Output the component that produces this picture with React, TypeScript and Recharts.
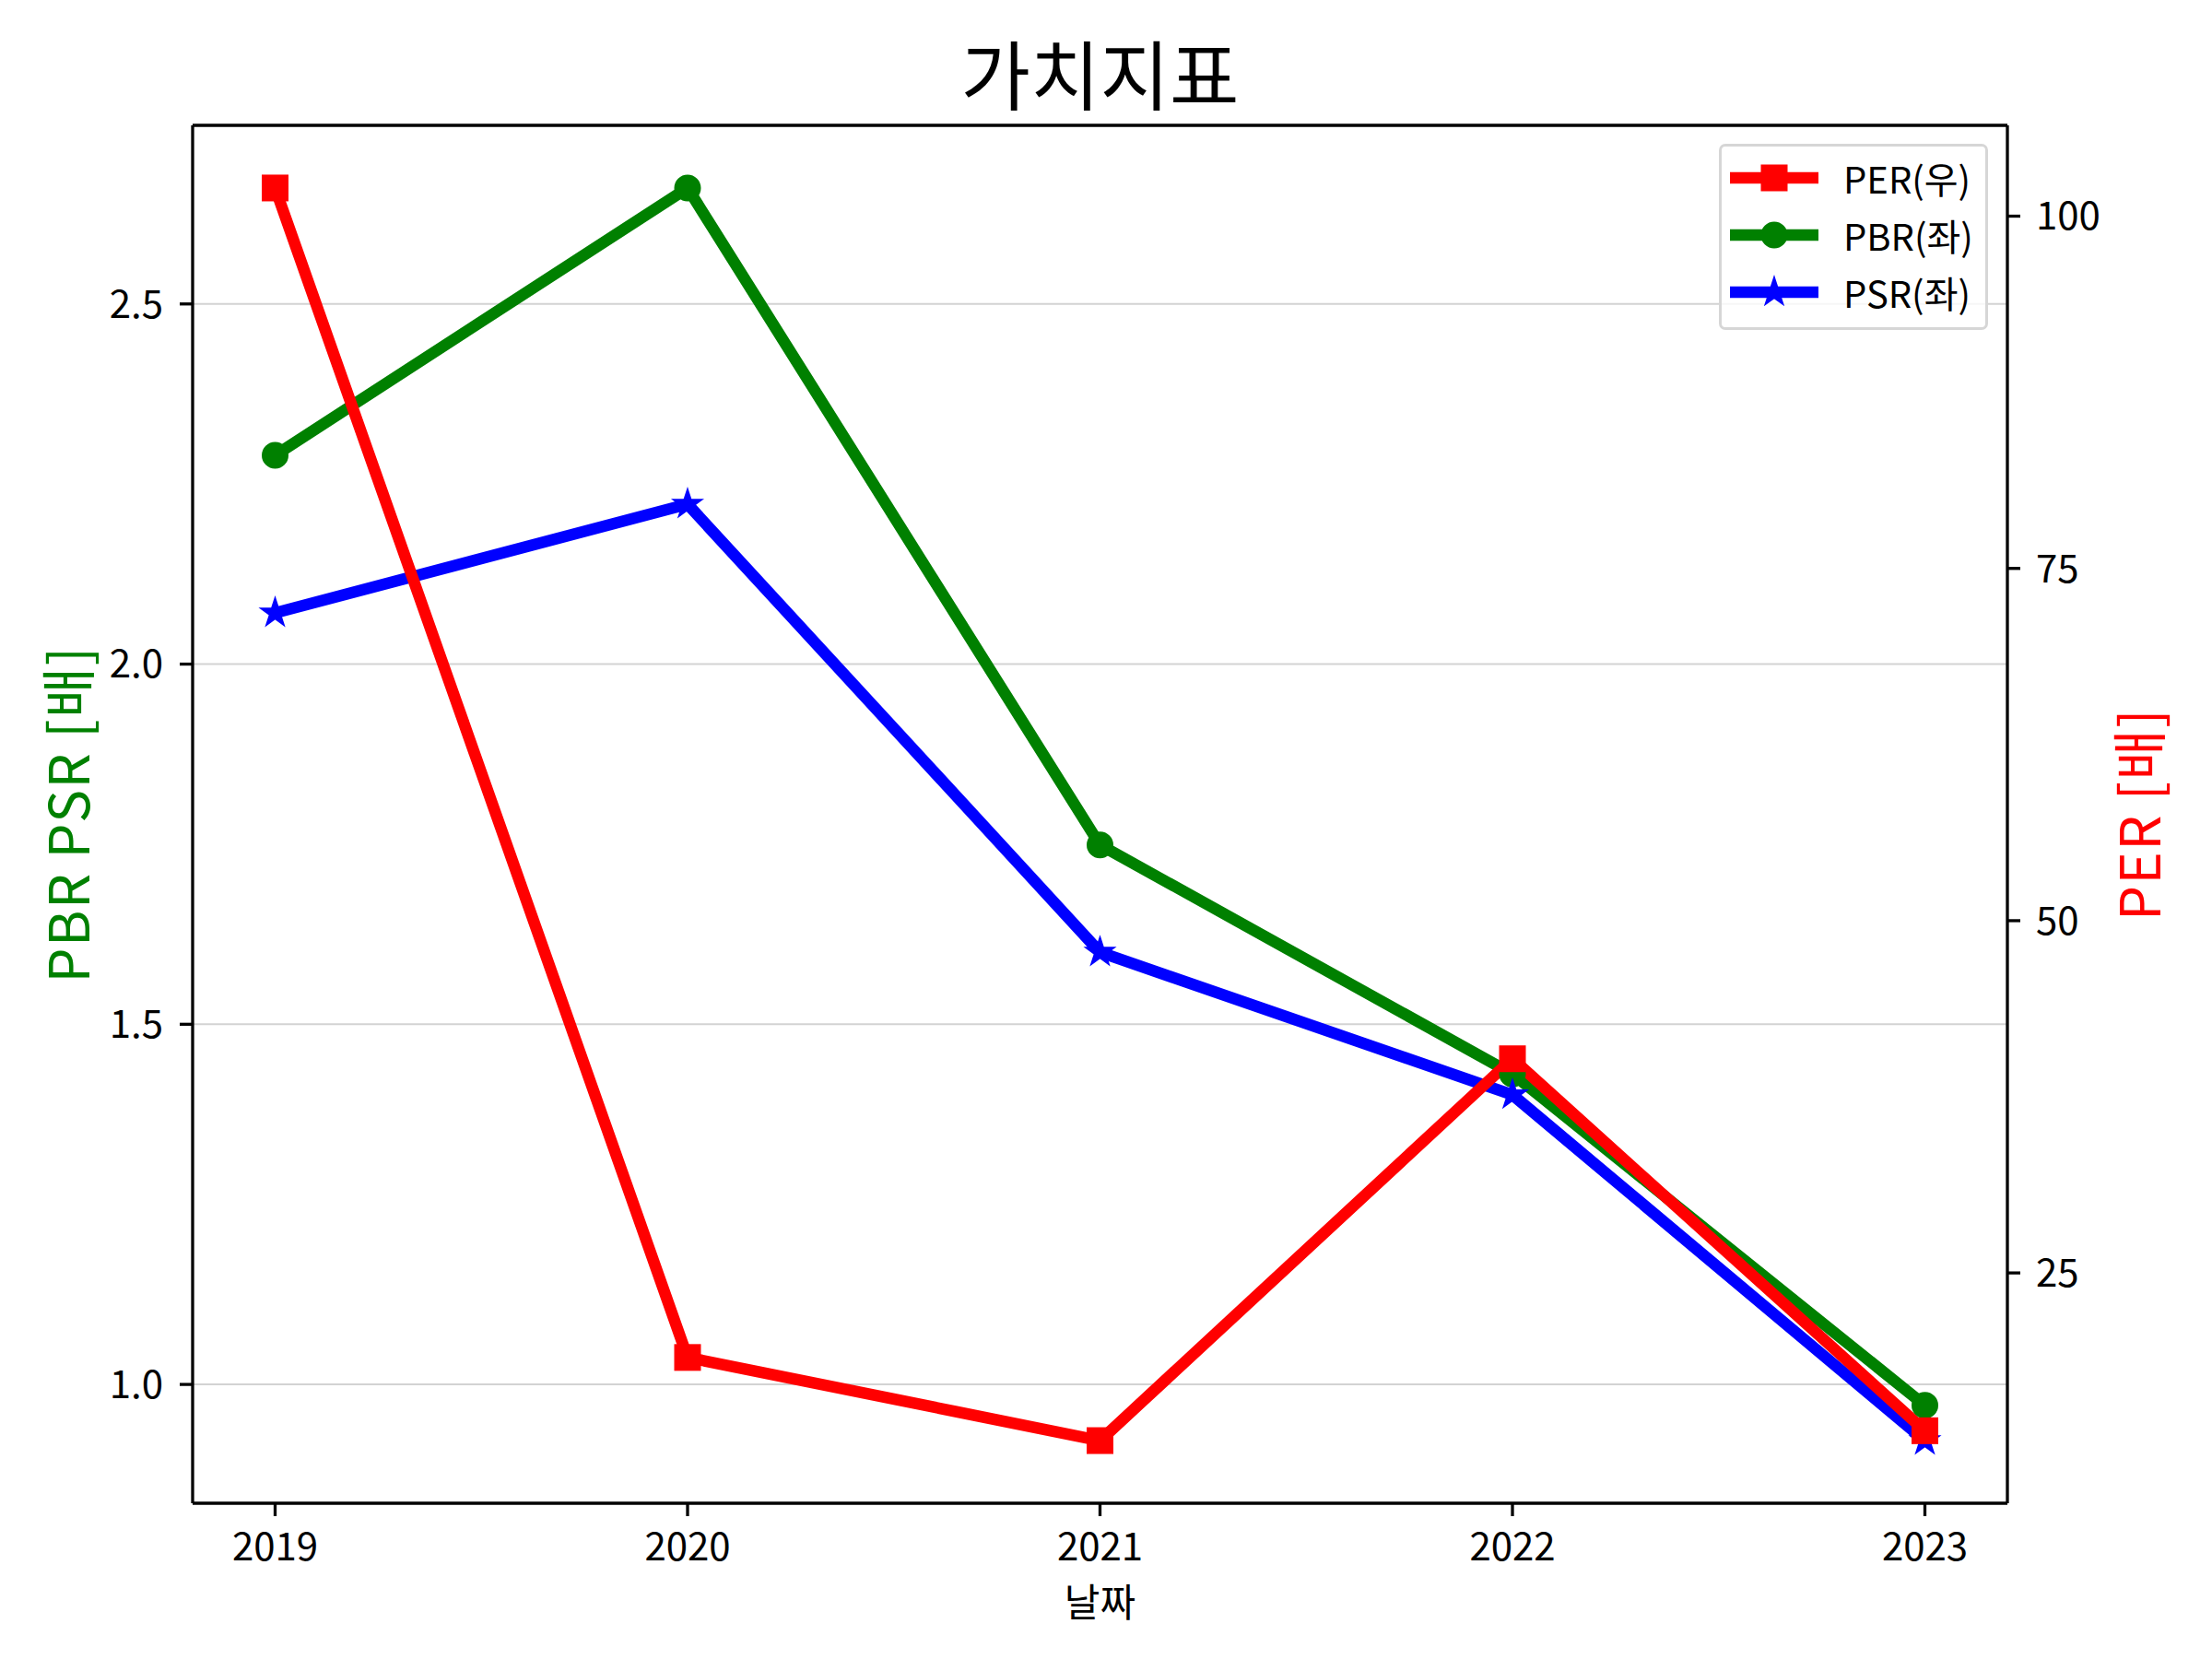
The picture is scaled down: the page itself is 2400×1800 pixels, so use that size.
import React from "react";
import { LineChart, Line, XAxis, YAxis, CartesianGrid, Legend, Label } from "recharts";

const years = [2019, 2020, 2021, 2022, 2023];
const perValues = [102.0, 19.0, 13.1, 40.2, 13.8];
const pbrValues = [2.29, 2.661, 1.749, 1.431, 0.971];
const psrValues = [2.071, 2.222, 1.6, 1.402, 0.922];
const leftTicks = [1.0, 1.5, 2.0, 2.5];
const rightTicks = [25, 50, 75, 100];
const seriesNames: Record<string, string> = { per: "PER(우)", pbr: "PBR(좌)", psr: "PSR(좌)" };
const legendOrder = ["per", "pbr", "psr"];

const rows = years.map((year, i) => ({
  year,
  per: perValues[i],
  pbr: pbrValues[i],
  psr: psrValues[i],
}));

// matplotlib-style 5% autoscale margins
function padded(values: number[]): [number, number] {
  const lo = Math.min(...values);
  const hi = Math.max(...values);
  const m = (hi - lo) * 0.05;
  return [lo - m, hi + m];
}
const leftDomain = padded([...pbrValues, ...psrValues]);
const rightDomain = padded(perValues);
const xDomain = padded(years);

const FONT = '"Noto Sans CJK KR", "Noto Sans", sans-serif';
const RED = "#ff0000";
const GREEN = "#008000";
const BLUE = "#0000ff";
const colors: Record<string, string> = { per: RED, pbr: GREEN, psr: BLUE };

const axisStroke = { stroke: "#000", strokeWidth: 3.3 };
const tickStyle = { fill: "#000", fontSize: 42, fontFamily: FONT };

function Marker({ kind, cx, cy, color }: { kind: string; cx: number; cy: number; color: string }) {
  if (kind === "per") {
    const s = 25;
    return <rect x={cx - s / 2} y={cy - s / 2} width={s} height={s} fill={color} stroke={color} strokeWidth={4} />;
  }
  if (kind === "pbr") {
    return <circle cx={cx} cy={cy} r={12.5} fill={color} stroke={color} strokeWidth={4} />;
  }
  const outer = 12.5;
  const inner = outer * 0.382;
  const pts: string[] = [];
  for (let k = 0; k < 10; k++) {
    const r = k % 2 === 0 ? outer : inner;
    const a = -Math.PI / 2 + (k * Math.PI) / 5;
    pts.push(`${cx + r * Math.cos(a)},${cy + r * Math.sin(a)}`);
  }
  return <polygon points={pts.join(" ")} fill={color} stroke={color} strokeWidth={4} strokeLinejoin="miter" />;
}

function dotFor(kind: string) {
  return (p: any) => (
    <Marker key={`${kind}-${p.index}`} kind={kind} cx={p.cx} cy={p.cy} color={colors[kind]} />
  );
}

function renderLegend(props: any) {
  const items = [...(props.payload ?? [])].sort(
    (a: any, b: any) => legendOrder.indexOf(a.dataKey) - legendOrder.indexOf(b.dataKey)
  );
  return (
    <div
      style={{
        boxSizing: "border-box",
        width: 292,
        height: 202,
        border: "3px solid #d6d6d6",
        borderRadius: 7,
        background: "rgba(255,255,255,0.8)",
        padding: "3px 0 0 9px",
        fontFamily: FONT,
      }}
    >
      {items.map((item: any) => (
        <div key={item.dataKey} style={{ display: "flex", alignItems: "center", height: 62 }}>
          <svg width={96} height={40} style={{ overflow: "visible" }}>
            <line x1={0} y1={20} x2={96} y2={20} stroke={colors[item.dataKey]} strokeWidth={12.5} />
            <Marker kind={item.dataKey} cx={48} cy={20} color={colors[item.dataKey]} />
          </svg>
          <span style={{ marginLeft: 27, fontSize: 40, lineHeight: "62px", color: "#000" }}>
            {seriesNames[item.dataKey]}
          </span>
        </div>
      ))}
    </div>
  );
}

export default function App() {
  return (
    <div
      style={{
        position: "absolute",
        left: 0,
        top: 0,
        width: 2400,
        height: 1800,
        background: "#fff",
        fontFamily: FONT,
        overflow: "hidden",
      }}
    >
      <div
        style={{
          position: "absolute",
          left: 0,
          top: 37,
          width: 2387,
          textAlign: "center",
          fontSize: 82,
          lineHeight: "82px",
          color: "#000",
          zIndex: 2,
        }}
      >
        가치지표
      </div>
      <LineChart
        width={2400}
        height={1800}
        data={rows}
        margin={{ top: 134, right: 42, left: 59, bottom: 39 }}
      >
        <CartesianGrid vertical={false} yAxisId="left" stroke="#d3d3d3" strokeWidth={2} />
        <XAxis
          dataKey="year"
          type="number"
          domain={xDomain}
          ticks={years}
          interval={0}
          allowDataOverflow
          height={130}
          tick={tickStyle}
          tickSize={14}
          tickMargin={18}
          tickLine={axisStroke}
          axisLine={axisStroke}
        >
          <Label
            content={(p: any) => (
              <text
                x={p.viewBox.x + p.viewBox.width / 2}
                y={p.viewBox.y + 104}
                textAnchor="middle"
                dominantBaseline="central"
                fontSize={42}
                fontFamily={FONT}
                fill="#000"
              >
                날짜
              </text>
            )}
          />
        </XAxis>
        <XAxis
          xAxisId="top"
          orientation="top"
          type="number"
          domain={xDomain}
          allowDataOverflow
          height={2}
          tick={false}
          tickLine={false}
          axisLine={axisStroke}
        />
        <YAxis
          yAxisId="left"
          orientation="left"
          type="number"
          domain={leftDomain}
          ticks={leftTicks}
          interval={0}
          allowDataOverflow
          width={150}
          tick={tickStyle}
          tickSize={14}
          tickMargin={18}
          tickLine={axisStroke}
          axisLine={axisStroke}
          tickFormatter={(v: number) => v.toFixed(1)}
        >
          <Label
            content={(p: any) => {
              const x = p.viewBox.x + 11;
              const y = p.viewBox.y + p.viewBox.height / 2;
              return (
                <text
                  x={x}
                  y={y}
                  transform={`rotate(-90 ${x} ${y})`}
                  textAnchor="middle"
                  dominantBaseline="central"
                  fontSize={60}
                  fontFamily={FONT}
                  fill={GREEN}
                  letterSpacing={1.5}
                >
                  PBR PSR [배]
                </text>
              );
            }}
          />
        </YAxis>
        <YAxis
          yAxisId="right"
          orientation="right"
          type="number"
          domain={rightDomain}
          ticks={rightTicks}
          interval={0}
          allowDataOverflow
          width={180}
          tick={tickStyle}
          tickSize={14}
          tickMargin={17}
          tickLine={axisStroke}
          axisLine={axisStroke}
        >
          <Label
            content={(p: any) => {
              const x = p.viewBox.x + 139;
              const y = p.viewBox.y + p.viewBox.height / 2;
              return (
                <text
                  x={x}
                  y={y}
                  transform={`rotate(-90 ${x} ${y})`}
                  textAnchor="middle"
                  dominantBaseline="central"
                  fontSize={60}
                  fontFamily={FONT}
                  fill={RED}
                  letterSpacing={1.5}
                >
                  PER [배]
                </text>
              );
            }}
          />
        </YAxis>
        <Legend
          layout="horizontal"
          verticalAlign="middle"
          align="center"
          content={renderLegend}
          wrapperStyle={{ position: "absolute", left: 1865, top: 156, width: 292, height: 202 }}
        />
        <Line
          yAxisId="left"
          dataKey="pbr"
          name={seriesNames.pbr}
          type="linear"
          stroke={GREEN}
          strokeWidth={12.5}
          strokeLinejoin="round"
          dot={dotFor("pbr")}
          activeDot={false}
          isAnimationActive={false}
        />
        <Line
          yAxisId="left"
          dataKey="psr"
          name={seriesNames.psr}
          type="linear"
          stroke={BLUE}
          strokeWidth={12.5}
          strokeLinejoin="round"
          dot={dotFor("psr")}
          activeDot={false}
          isAnimationActive={false}
        />
        <Line
          yAxisId="right"
          dataKey="per"
          name={seriesNames.per}
          type="linear"
          stroke={RED}
          strokeWidth={12.5}
          strokeLinejoin="round"
          dot={dotFor("per")}
          activeDot={false}
          isAnimationActive={false}
        />
      </LineChart>
    </div>
  );
}
